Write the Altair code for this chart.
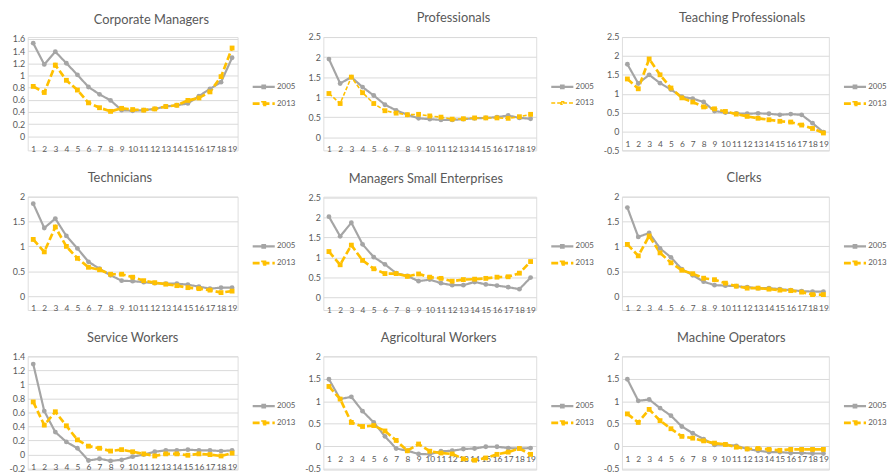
import altair as alt
import pandas as pd

X = list(range(1, 20))
YEARS = ["2005", "2013"]
COLORS = ["#A5A5A5", "#FFC000"]
SHAPES = ["circle", "square"]
TEXT = "#595959"
GRID = "#D9D9D9"
FONT = "Lato"

CM_2005 = [1.53, 1.18, 1.39, 1.20, 1.01, 0.81, 0.69, 0.59, 0.43, 0.42, 0.43, 0.45, 0.49, 0.51, 0.54, 0.66, 0.78, 0.89, 1.29]
CM_2013 = [0.82, 0.72, 1.17, 0.92, 0.76, 0.55, 0.47, 0.41, 0.46, 0.44, 0.43, 0.45, 0.49, 0.51, 0.59, 0.63, 0.73, 0.98, 1.45]
PR_2005 = [1.95, 1.34, 1.50, 1.25, 1.04, 0.81, 0.67, 0.56, 0.47, 0.45, 0.43, 0.43, 0.45, 0.47, 0.48, 0.50, 0.54, 0.48, 0.46]
PR_2013 = [1.09, 0.84, 1.50, 1.11, 0.84, 0.66, 0.60, 0.56, 0.57, 0.53, 0.50, 0.45, 0.46, 0.48, 0.48, 0.48, 0.47, 0.51, 0.57]
TP_2005 = [1.78, 1.27, 1.50, 1.28, 1.11, 0.92, 0.87, 0.78, 0.54, 0.50, 0.48, 0.47, 0.48, 0.47, 0.44, 0.46, 0.44, 0.22, -0.02]
TP_2013 = [1.39, 1.13, 1.92, 1.50, 1.15, 0.89, 0.78, 0.65, 0.60, 0.53, 0.46, 0.40, 0.35, 0.31, 0.27, 0.25, 0.17, 0.08, -0.04]
TE_2005 = [1.86, 1.37, 1.56, 1.21, 0.96, 0.69, 0.55, 0.42, 0.31, 0.30, 0.28, 0.26, 0.25, 0.25, 0.23, 0.19, 0.15, 0.17, 0.17]
TE_2013 = [1.14, 0.89, 1.39, 1.00, 0.76, 0.58, 0.53, 0.44, 0.44, 0.38, 0.31, 0.27, 0.24, 0.21, 0.17, 0.15, 0.12, 0.07, 0.10]
MS_2005 = [2.02, 1.53, 1.87, 1.33, 1.01, 0.83, 0.61, 0.54, 0.41, 0.45, 0.36, 0.31, 0.31, 0.39, 0.33, 0.30, 0.26, 0.21, 0.50]
MS_2013 = [1.15, 0.82, 1.31, 0.93, 0.72, 0.60, 0.60, 0.53, 0.59, 0.51, 0.48, 0.41, 0.45, 0.46, 0.48, 0.51, 0.52, 0.61, 0.90]
CL_2005 = [1.78, 1.19, 1.27, 0.96, 0.78, 0.54, 0.42, 0.29, 0.22, 0.21, 0.20, 0.18, 0.16, 0.16, 0.14, 0.12, 0.10, 0.09, 0.09]
CL_2013 = [1.04, 0.81, 1.21, 0.87, 0.67, 0.52, 0.45, 0.36, 0.33, 0.26, 0.20, 0.16, 0.16, 0.14, 0.12, 0.11, 0.08, 0.03, 0.03]
SW_2005 = [1.29, 0.62, 0.32, 0.18, 0.09, -0.085, -0.06, -0.09, -0.075, -0.03, 0.00, 0.04, 0.06, 0.06, 0.07, 0.06, 0.06, 0.05, 0.06]
SW_2013 = [0.75, 0.42, 0.61, 0.41, 0.21, 0.12, 0.09, 0.05, 0.07, 0.04, 0.01, -0.02, 0.01, 0.01, -0.01, 0.01, 0.00, -0.02, 0.02]
AW_2005 = [1.49, 1.05, 1.10, 0.78, 0.53, 0.22, -0.05, -0.10, -0.17, -0.18, -0.11, -0.10, -0.06, -0.05, -0.01, -0.01, -0.04, -0.05, -0.04]
AW_2013 = [1.33, 1.05, 0.53, 0.44, 0.46, 0.34, 0.13, -0.10, 0.05, -0.11, -0.15, -0.17, -0.28, -0.31, -0.26, -0.18, -0.13, -0.05, -0.18]
MO_2005 = [1.49, 1.01, 1.04, 0.85, 0.68, 0.44, 0.29, 0.16, 0.03, 0.04, 0.01, -0.06, -0.10, -0.13, -0.13, -0.15, -0.15, -0.16, -0.16]
MO_2013 = [0.72, 0.53, 0.82, 0.57, 0.39, 0.22, 0.18, 0.12, 0.07, 0.04, -0.02, -0.06, -0.05, -0.07, -0.09, -0.07, -0.07, -0.07, -0.07]

# y-axis tick values (and gridlines) of each panel
T_CM = [0, 0.2, 0.4, 0.6, 0.8, 1, 1.2, 1.4, 1.6]
T_25 = [0, 0.5, 1, 1.5, 2, 2.5]
T_TP = [-0.5, 0, 0.5, 1, 1.5, 2, 2.5]
T_20 = [0, 0.5, 1, 1.5, 2]
T_SW = [-0.2, 0, 0.2, 0.4, 0.6, 0.8, 1, 1.2, 1.4]
T_NEG20 = [-0.5, 0, 0.5, 1, 1.5, 2]

# y-scale extents (styling: leaves room for the category labels under the zero line)
D_CM = [-0.23, 1.63]
D_PR = [-0.33, 2.5]
D_TP = [-0.5, 2.5]
D_TE = [-0.28, 2.0]
D_MS = [-0.31, 2.52]
D_SW = [-0.215, 1.4]
D_NEG = [-0.52, 2.0]

LEGEND_PATH = "M-1.4,0L1.4,0M-0.16,-0.16L0.16,-0.16L0.16,0.16L-0.16,0.16Z"

WIDTHS = [213, 216, 210]
H = 115


def panel(title, v05, v13, ticks, dom, tdx, col, thin=False):
    W = WIDTHS[col]
    df = pd.DataFrame({
        "x": X + X,
        "value": v05 + v13,
        "year": [YEARS[0]] * len(X) + [YEARS[1]] * len(X),
    })
    dmin, dmax = dom
    xoff = -H * (0 - dmin) / (dmax - dmin)
    leg = alt.Legend(
        title=None, orient="none", legendX=W + 17, legendY=41,
        symbolType=LEGEND_PATH, symbolSize=256, symbolStrokeWidth=2.3,
        labelFontSize=8, labelColor=TEXT, labelFont=FONT, labelOffset=4,
        rowPadding=1,
    )
    x = alt.X("x:O", axis=alt.Axis(
        title=None, labelAngle=0, domain=False, ticks=False, labelFontSize=8.5,
        labelColor=TEXT, labelFont=FONT, labelPadding=8, offset=xoff,
        labelOverlap=False, grid=False))
    y = alt.Y("value:Q", scale=alt.Scale(domain=[dmin, dmax], nice=False, zero=False),
              axis=alt.Axis(values=ticks, title=None, domain=False, ticks=False,
                            grid=True, gridColor=GRID, gridWidth=1, labelFontSize=9,
                            labelColor=TEXT, labelFont=FONT, labelPadding=3,
                            labelExpr="'' + datum.value"))
    dash = [4, 2] if thin else [7, 3]
    w13 = 1.6 if thin else 2.7
    line = alt.Chart(df).mark_line().encode(
        x=x, y=y,
        color=alt.Color("year:N", scale=alt.Scale(domain=YEARS, range=COLORS), legend=leg),
        strokeDash=alt.StrokeDash("year:N", scale=alt.Scale(domain=YEARS, range=[[1, 0], dash]), legend=leg),
        strokeWidth=alt.StrokeWidth("year:N", scale=alt.Scale(domain=YEARS, range=[2.2, w13]), legend=None),
    )
    layers = [line]
    for yr, colr, shp in zip(YEARS, COLORS, SHAPES):
        layers.append(
            alt.Chart(df).transform_filter(alt.datum.year == yr).mark_point(
                filled=True, opacity=1, strokeWidth=0, size=24, shape=shp, color=colr
            ).encode(x=x, y=y)
        )
    return alt.layer(*layers).properties(
        width=W, height=H,
        title=alt.TitleParams(title, fontSize=13, font=FONT, color=TEXT, fontWeight="normal",
                              dx=tdx, offset=8, frame="group", anchor="middle"),
    )


panels = [
    panel("Corporate Managers", CM_2005, CM_2013, T_CM, D_CM, 19, 0),
    panel("Professionals", PR_2005, PR_2013, T_25, D_PR, 24, 1, thin=True),
    panel("Teaching Professionals", TP_2005, TP_2013, T_TP, D_TP, 17, 2),
    panel("Technicians", TE_2005, TE_2013, T_20, D_TE, -13, 0),
    panel("Managers Small Enterprises", MS_2005, MS_2013, T_25, D_MS, -4, 1),
    panel("Clerks", CL_2005, CL_2013, T_20, D_TE, 19, 2),
    panel("Service Workers", SW_2005, SW_2013, T_SW, D_SW, 0, 0),
    panel("Agricoltural Workers", AW_2005, AW_2013, T_NEG20, D_NEG, 9, 1),
    panel("Machine Operators", MO_2005, MO_2013, T_NEG20, D_NEG, 6, 2),
]

chart = alt.concat(
    *panels, columns=3, spacing={"row": 47, "column": 87}, bounds="flush", align="each"
).resolve_scale(
    color="independent", strokeDash="independent", strokeWidth="independent",
    x="independent", y="independent"
).resolve_legend(
    color="independent", strokeDash="independent"
).properties(
    padding=0, background="white"
).configure_view(stroke=None).configure(font=FONT)

chart.save("out.html", embed_options={"renderer": "svg", "actions": False})
